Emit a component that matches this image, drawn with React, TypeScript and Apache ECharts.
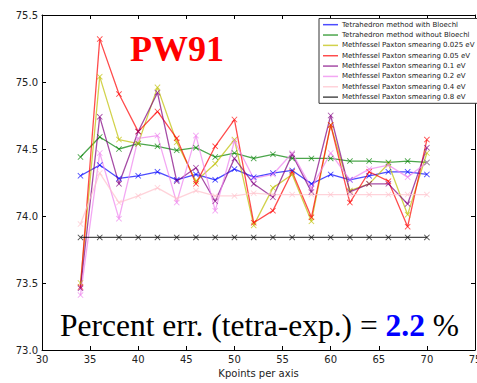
import React, { useEffect, useRef } from "react";
import * as echarts from "echarts";

const kpoints = [34, 36, 38, 40, 42, 44, 46, 48, 50, 52, 54, 56, 58, 60, 62, 64, 66, 68, 70];

const seriesNames = [
  "Tetrahedron method with Bloechl",
  "Tetrahedron method without Bloechl",
  "Methfessel Paxton smearing 0.025 eV",
  "Methfessel Paxton smearing 0.05 eV",
  "Methfessel Paxton smearing 0.1 eV",
  "Methfessel Paxton smearing 0.2 eV",
  "Methfessel Paxton smearing 0.4 eV",
  "Methfessel Paxton smearing 0.8 eV",
];

const tetraBloechl = [74.30, 74.38, 74.28, 74.30, 74.33, 74.27, 74.31, 74.27, 74.35, 74.29, 74.32, 74.34, 74.24, 74.31, 74.27, 74.30, 74.33, 74.33, 74.31];
const tetraNoBloechl = [74.44, 74.59, 74.50, 74.54, 74.52, 74.49, 74.51, 74.44, 74.47, 74.43, 74.46, 74.43, 74.43, 74.43, 74.41, 74.41, 74.40, 74.41, 74.40];
const mp0025 = [73.50, 75.04, 74.57, 74.54, 74.96, 74.55, 74.26, 74.39, 74.57, 73.93, 74.21, 74.31, 73.96, 74.68, 74.19, 74.24, 74.39, 74.01, 74.47];
const mp005 = [73.47, 75.32, 74.91, 74.63, 74.78, 74.58, 74.24, 74.52, 74.72, 73.95, 74.04, 74.33, 73.99, 74.68, 74.10, 74.33, 74.26, 73.92, 74.57];
const mp01 = [73.46, 74.74, 74.24, 74.63, 74.92, 74.26, 74.36, 74.11, 74.43, 74.24, 74.14, 74.46, 74.18, 74.75, 74.18, 74.24, 74.24, 74.09, 74.51];
const mp02 = [73.41, 74.47, 73.98, 74.58, 74.60, 74.10, 74.60, 74.04, 74.56, 74.28, 74.31, 74.47, 74.21, 74.47, 74.27, 74.35, 74.38, 74.29, 74.40];
const mp04 = [73.94, 74.32, 74.10, 74.15, 74.21, 74.13, 74.19, 74.15, 74.15, 74.17, 74.16, 74.16, 74.16, 74.16, 74.16, 74.16, 74.16, 74.16, 74.16];
const mp08 = [73.84, 73.84, 73.84, 73.84, 73.84, 73.84, 73.84, 73.84, 73.84, 73.84, 73.84, 73.84, 73.84, 73.84, 73.84, 73.84, 73.84, 73.84, 73.84];

const allValues = [tetraBloechl, tetraNoBloechl, mp0025, mp005, mp01, mp02, mp04, mp08];
const colors = ["#0000ff", "#008000", "#bfbf00", "#ff0000", "#800080", "#ee82ee", "#ffc0cb", "#000000"];

const yTicks = ["73.0", "73.5", "74.0", "74.5", "75.0", "75.5"];

const crossSymbol =
  "path://M0,1 L1,0 L5,4 L9,0 L10,1 L6,5 L10,9 L9,10 L5,6 L1,10 L0,9 L4,5 Z";

export default function App() {
  const ref = useRef<HTMLDivElement>(null);
  useEffect(() => {
    if (!ref.current) return;
    const chart = echarts.init(ref.current, null, { renderer: "svg" });
    const series = allValues.map((vals, i) => ({
      name: seriesNames[i],
      type: "line",
      data: kpoints.map((k, j) => [k, vals[j]]),
      symbol: crossSymbol,
      symbolSize: 6,
      showSymbol: true,
      lineStyle: { color: colors[i], width: 1.3, opacity: 0.7 },
      itemStyle: { color: colors[i], opacity: 0.7 },
      emphasis: { disabled: true },
    }));
    const axisFont = { fontFamily: "DejaVu Sans", fontSize: 10, color: "#222" };
    chart.setOption({
      animation: false,
      backgroundColor: "#ffffff",
      grid: {
        left: 42,
        right: 2,
        top: 15,
        bottom: 33,
        containLabel: false,
        outerBoundsMode: "none",
      },
      xAxis: [
        {
          type: "value",
          min: 30,
          max: 75,
          interval: 5,
          name: "Kpoints per axis",
          nameLocation: "middle",
          nameGap: 18,
          nameTextStyle: { fontFamily: "DejaVu Sans", fontSize: 10, color: "#222" },
          axisLine: { show: true, lineStyle: { color: "#000", width: 1 } },
          axisTick: { show: true, inside: true, length: 4, lineStyle: { color: "#000" } },
          axisLabel: { ...axisFont, margin: 4, showMaxLabel: true },
          splitLine: { show: false },
        },
        {
          type: "value",
          position: "top",
          min: 30,
          max: 75,
          interval: 5,
          axisLine: { show: true, lineStyle: { color: "#000", width: 1 } },
          axisTick: { show: true, inside: true, length: 4, lineStyle: { color: "#000" } },
          axisLabel: { show: false },
          splitLine: { show: false },
        },
      ],
      yAxis: [
        {
          type: "value",
          min: 73.0,
          max: 75.5,
          interval: 0.5,
          axisLine: { show: true, lineStyle: { color: "#000", width: 1 } },
          axisTick: { show: true, inside: true, length: 4, lineStyle: { color: "#000" } },
          axisLabel: {
            ...axisFont,
            margin: 4,
            formatter: (v: number) => {
              const idx = Math.round((v - 73.0) / 0.5);
              return yTicks[idx] ?? v.toFixed(1);
            },
          },
          splitLine: { show: false },
        },
        {
          type: "value",
          position: "right",
          min: 73.0,
          max: 75.5,
          interval: 0.5,
          axisLine: { show: true, lineStyle: { color: "#000", width: 1 } },
          axisTick: { show: true, inside: true, length: 4, lineStyle: { color: "#000" } },
          axisLabel: { show: false },
          splitLine: { show: false },
        },
      ],
      legend: {
        data: seriesNames,
        orient: "vertical",
        left: 319,
        top: 18.5,
        padding: [1, 6, 1, 4],
        itemGap: 0,
        itemWidth: 15,
        itemHeight: 1.5,
        icon: "rect",
        borderColor: "#333",
        borderWidth: 1,
        borderRadius: 0,
        backgroundColor: "#fff",
        selectedMode: false,
        textStyle: {
          fontFamily: "DejaVu Sans",
          fontSize: 7,
          color: "#222",
          lineHeight: 10.35,
          padding: [0, 0, 0, -1],
        },
      },
      graphic: [
        {
          type: "text",
          x: 130,
          y: 49,
          z: 100,
          style: {
            text: "PW91",
            fontFamily: "Liberation Serif",
            fontWeight: "bold",
            fontSize: 36,
            fill: "#ff0000",
            textAlign: "left",
            textVerticalAlign: "middle",
          },
        },
        {
          type: "text",
          x: 60,
          y: 325,
          z: 100,
          style: {
            text: "{a|Percent err. (tetra-exp.) = }{b|2.2}{a| %}",
            textAlign: "left",
            textVerticalAlign: "middle",
            rich: {
              a: { fontFamily: "Liberation Serif", fontSize: 31.5, fill: "#000" },
              b: { fontFamily: "Liberation Serif", fontSize: 31.5, fontWeight: "bold", fill: "#0000ff" },
            },
          },
        },
      ],
      series,
    });
    return () => chart.dispose();
  }, []);
  return (
    <div
      ref={ref}
      style={{ position: "absolute", left: 0, top: 0, width: 477, height: 383 }}
    />
  );
}
